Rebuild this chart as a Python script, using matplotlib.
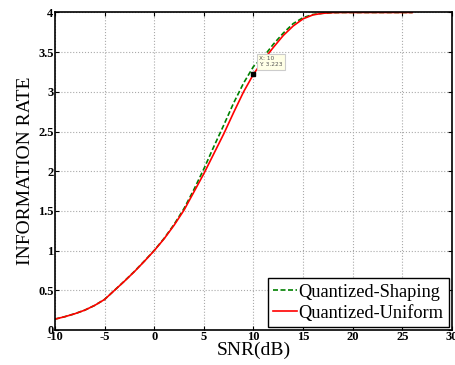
import matplotlib
matplotlib.use("Agg")
import matplotlib.pyplot as plt

# SNR grid (dB) and information rates
snr = [-10, -9, -8, -7, -6, -5, -4, -3, -2, -1, 0, 1, 2, 3, 4, 5, 6, 7, 8,
       9, 10, 11, 12, 13, 14, 15, 16, 17, 18, 19, 20, 21, 22, 23, 24, 25, 26]
rate_shaping = [0.137, 0.168, 0.205, 0.25, 0.31, 0.386, 0.501, 0.617, 0.738,
                0.868, 1.003, 1.155, 1.33, 1.53, 1.77, 2.03, 2.31, 2.58, 2.86,
                3.11, 3.32, 3.44, 3.60, 3.74, 3.86, 3.935, 3.975, 3.99, 3.998,
                4.0, 4.0, 4.0, 4.0, 4.0, 4.0, 4.0, 4.0]
rate_uniform = [0.137, 0.168, 0.205, 0.25, 0.31, 0.385, 0.50, 0.615, 0.735,
                0.865, 1.0, 1.15, 1.32, 1.51, 1.74, 1.97, 2.22, 2.47, 2.74,
                3.0, 3.223, 3.40, 3.56, 3.71, 3.83, 3.92, 3.97, 3.99, 3.998,
                4.0, 4.0, 4.0, 4.0, 4.0, 4.0, 4.0, 4.0]
xticks = [-10, -5, 0, 5, 10, 15, 20, 25, 30]
yticks = [0, 0.5, 1, 1.5, 2, 2.5, 3, 3.5, 4]
tip_x, tip_y = 10, 3.223

serif = ['Liberation Serif', 'DejaVu Serif']
plt.rcParams['axes.unicode_minus'] = False

fig = plt.figure(figsize=(4.56, 3.65), dpi=100)
ax = fig.add_axes([0.1206, 0.0959, 0.8706, 0.8699])

ax.plot(snr, rate_shaping, '--', color='#008000', lw=1.2, dashes=(3, 1.5),
        label='Quantized-Shaping')
ax.plot(snr, rate_uniform, '-', color='red', lw=1.2, label='Quantized-Uniform')

# data tip
ax.plot([tip_x], [tip_y], 's', color='black', ms=3.5)
ax.annotate('X: 10\nY: 3.223', xy=(tip_x, tip_y), xytext=(4, 5),
            textcoords='offset points', fontsize=4.2, color='#555555',
            fontfamily=['DejaVu Sans'], va='bottom', ha='left',
            bbox=dict(boxstyle='square,pad=0.4', fc='#ffffe6', ec='#cccccc', lw=0.8))

ax.set_xlim(-10, 30)
ax.set_ylim(0, 4)
ax.set_xticks(xticks)
ax.set_xticklabels([str(t) for t in xticks], fontfamily=serif,
                   fontweight='bold', fontsize=9)
ax.set_yticks(yticks)
ax.set_yticklabels(['%g' % t for t in yticks], fontfamily=serif,
                   fontweight='bold', fontsize=9)
ax.grid(True, linestyle=':', color='#aaaaaa', lw=0.8)
ax.tick_params(direction='in', top=True, right=True, length=3, width=0.8, pad=1)
for sp in ax.spines.values():
    sp.set_linewidth(1.2)

ax.set_xlabel('SNR(dB)', fontsize=14, fontfamily=serif, labelpad=-1)
ax.set_ylabel('INFORMATION RATE', fontsize=14, fontfamily=serif, labelpad=3)

leg = ax.legend(loc='lower right', prop={'family': serif, 'size': 13.2},
                fancybox=False, edgecolor='black', framealpha=1,
                handlelength=1.3, handletextpad=0.1, borderpad=0.3,
                labelspacing=0.22, borderaxespad=0.15)
leg.get_frame().set_linewidth(1.0)

fig.savefig('out.png', dpi=100)
